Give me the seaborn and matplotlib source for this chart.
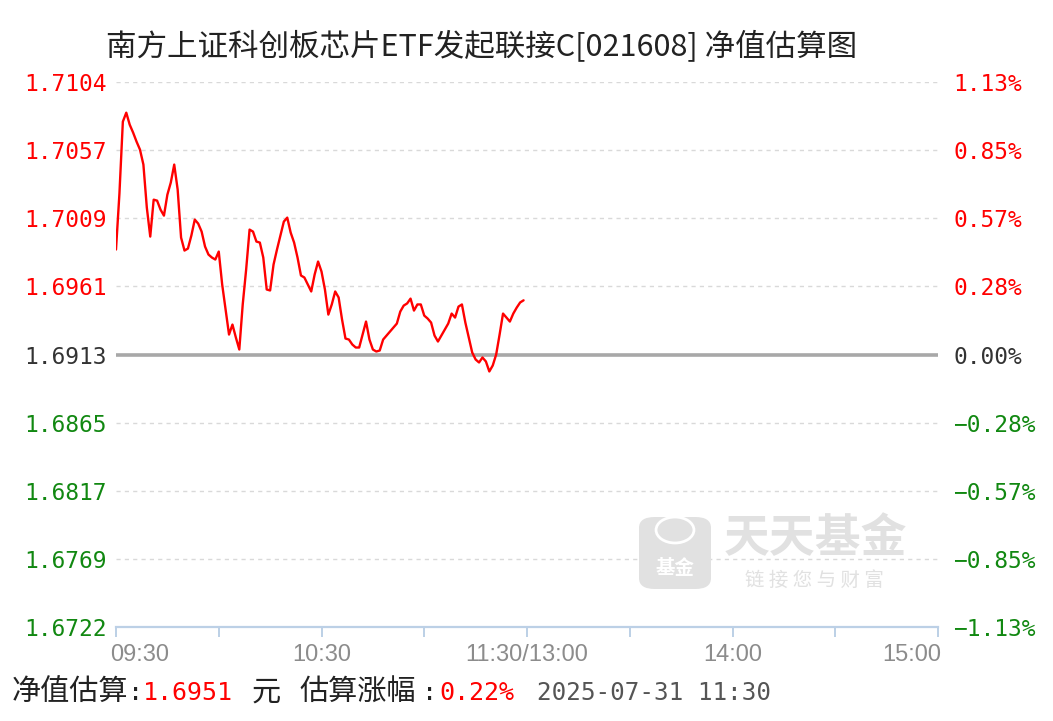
import matplotlib
matplotlib.use("Agg")
import matplotlib.pyplot as plt
import matplotlib.transforms as mtransforms
from matplotlib import font_manager
from matplotlib.patches import FancyBboxPatch, Circle
import numpy as np
import pandas as pd
import seaborn as sns

# ---------------- data ----------------
minutes = list(range(120))  # trading minutes since 09:30
nav = [
    1.69866, 1.70258, 1.70763, 1.70826, 1.70742, 1.70686, 1.70623, 1.70567, 1.70462, 1.70160,
    1.69957, 1.70216, 1.70209, 1.70146, 1.70104, 1.70251, 1.70336, 1.70462, 1.70287, 1.69950,
    1.69859, 1.69873, 1.69964, 1.70076, 1.70048, 1.69992, 1.69887, 1.69831, 1.69810, 1.69796,
    1.69852, 1.69621, 1.69445, 1.69270, 1.69340, 1.69249, 1.69165, 1.69481, 1.69726, 1.70006,
    1.69992, 1.69922, 1.69915, 1.69810, 1.69586, 1.69579, 1.69761, 1.69866, 1.69964, 1.70062,
    1.70090, 1.69985, 1.69915, 1.69810, 1.69684, 1.69670, 1.69621, 1.69572, 1.69691, 1.69782,
    1.69712, 1.69586, 1.69410, 1.69481, 1.69572, 1.69530, 1.69375, 1.69242, 1.69235, 1.69200,
    1.69179, 1.69179, 1.69270, 1.69361, 1.69235, 1.69165, 1.69151, 1.69158, 1.69235, 1.69263,
    1.69291, 1.69319, 1.69347, 1.69431, 1.69473, 1.69488, 1.69522, 1.69438, 1.69481, 1.69481,
    1.69403, 1.69382, 1.69354, 1.69263, 1.69221, 1.69263, 1.69305, 1.69347, 1.69417, 1.69389,
    1.69466, 1.69481, 1.69354, 1.69249, 1.69144, 1.69095, 1.69074, 1.69109, 1.69081, 1.69011,
    1.69053, 1.69130, 1.69270, 1.69417, 1.69389, 1.69361, 1.69417, 1.69459, 1.69495, 1.69510,
]
base_nav = 1.6913
range_pct = 1.13
left_labels = ["1.6722", "1.6769", "1.6817", "1.6865", "1.6913", "1.6961", "1.7009", "1.7057", "1.7104"]
right_labels = ["\u22121.13%", "\u22120.85%", "\u22120.57%", "\u22120.28%", "0.00%", "0.28%", "0.57%", "0.85%", "1.13%"]
xtick_minutes = [0, 30, 60, 90, 120, 150, 180, 210, 240]
xtick_labels = ["09:30", "", "10:30", "", "11:30/13:00", "", "14:00", "", "15:00"]
title = "南方上证科创板芯片ETF发起联接C[021608] 净值估算图"
est_nav = "1.6951"
est_pct = "0.22%"
stamp = "2025-07-31 11:30"

# ---------------- style ----------------
sns.set_style("white")
CJK = ["Noto Sans CJK SC", "DejaVu Sans"]
MONO = ["DejaVu Sans Mono", "Noto Sans CJK SC"]
plt.rcParams["font.family"] = CJK
avail = {f.name for f in font_manager.fontManager.ttflist}
NARROW = ["Liberation Sans Narrow"] if "Liberation Sans Narrow" in avail else ["Liberation Sans", "DejaVu Sans"]

RED = "#ff0000"
GREEN = "#118811"
DARK = "#333333"

W, H = 1053, 721
fig = plt.figure(figsize=(W / 100, H / 100), dpi=100)
L, R, T, B = 116, 938, 82, 627
ax = fig.add_axes([L / W, 1 - B / H, (R - L) / W, (B - T) / H])

df = pd.DataFrame({"minute": minutes, "nav": nav})
ymin = base_nav * (1 - range_pct / 100)
ymax = base_nav * (1 + range_pct / 100)
yt = np.linspace(ymin, ymax, len(left_labels))

# grid
for i, y in enumerate(yt):
    if i == 0 or left_labels[i] == f"{base_nav:.4f}":
        continue
    ax.axhline(y, color="#d9d9d9", lw=1.0, ls=(0, (3, 3)), zorder=1)
ax.axhline(base_nav, color="#a8a8a8", lw=2.6, zorder=2)

sns.lineplot(data=df, x="minute", y="nav", ax=ax, color=RED, linewidth=1.7, zorder=4)

ax.set_xlim(0, 240)
ax.set_ylim(ymin, ymax)
ax.set_xlabel("")
ax.set_ylabel("")

for s in ["left", "right", "top"]:
    ax.spines[s].set_visible(False)
ax.spines["bottom"].set_color("#bcd0e6")
ax.spines["bottom"].set_linewidth(1.6)

ax.set_yticks(yt)
ax.set_yticklabels(left_labels, family=MONO, fontsize=16.5)
ax.tick_params(axis="y", left=False, length=0, pad=7)

ax.set_xticks(xtick_minutes)
ax.set_xticklabels(xtick_labels, family=NARROW, fontsize=17, color="#8c8c8c")
ax.tick_params(axis="x", bottom=True, direction="out", length=7, width=1.4, color="#bcd0e6", pad=5)

xl = ax.get_xticklabels()
xl[0].set_ha("left")
xl[0].set_transform(xl[0].get_transform() + mtransforms.ScaledTranslation(-6 / 100, 0, fig.dpi_scale_trans))
xl[-1].set_ha("right")
xl[-1].set_transform(xl[-1].get_transform() + mtransforms.ScaledTranslation(3 / 100, 0, fig.dpi_scale_trans))

def col(i, n):
    mid = n // 2
    return RED if i > mid else (DARK if i == mid else GREEN)

for i, t in enumerate(ax.get_yticklabels()):
    t.set_color(col(i, len(left_labels)))

ax2 = ax.twinx()
ax2.set_ylim(ymin, ymax)
ax2.set_yticks(yt)
ax2.set_yticklabels(right_labels, family=MONO, fontsize=16.5)
ax2.tick_params(axis="y", right=False, length=0, pad=11)
for s in ["left", "right", "top", "bottom"]:
    ax2.spines[s].set_visible(False)
for i, t in enumerate(ax2.get_yticklabels()):
    t.set_color(col(i, len(right_labels)))

# title
fig.text(482 / W, 1 - 46 / H, title, ha="center", va="center", fontsize=22, color="#222222", family=CJK)

# watermark
wm = "#e1e1e1"
box = FancyBboxPatch((639 / W, 1 - 589 / H), 72 / W, 72 / H,
                     boxstyle="round,pad=0,rounding_size=0.015", transform=fig.transFigure,
                     facecolor=wm, edgecolor="none", zorder=0.5)
fig.patches.append(box)
circ = Circle((675 / W, 1 - 530 / H), 0.018, transform=fig.transFigure, facecolor="none",
              edgecolor="white", lw=2, zorder=0.6)
fig.patches.append(circ)
fig.text(675 / W, 1 - 568 / H, "基金", ha="center", va="center", fontsize=14, color="white",
         family=CJK, weight="bold", zorder=0.7)
fig.text(815 / W, 1 - 539 / H, "天天基金", ha="center", va="center", fontsize=33, color=wm,
         family=CJK, weight="bold", zorder=0.6)
fig.text(814 / W, 1 - 580 / H, "链 接 您 与 财 富", ha="center", va="center", fontsize=14, color=wm,
         family=CJK, zorder=0.6)

# bottom info line
yb = 1 - 693 / H
txt = "#222222"
fig.text(12 / W, yb, "净值估算", ha="left", va="center", fontsize=21, color=txt, family=CJK)
fig.text(128 / W, yb, ":", ha="left", va="center", fontsize=18, color=txt, family=MONO)
fig.text(143 / W, yb, est_nav, ha="left", va="center", fontsize=18, color=RED, family=MONO)
fig.text(252 / W, yb, "元", ha="left", va="center", fontsize=21, color=txt, family=CJK)
fig.text(299 / W, yb, "估算涨幅", ha="left", va="center", fontsize=21, color=txt, family=CJK)
fig.text(422 / W, yb, ":", ha="left", va="center", fontsize=18, color=txt, family=MONO)
fig.text(439 / W, yb, est_pct, ha="left", va="center", fontsize=18, color=RED, family=MONO)
fig.text(537 / W, yb, stamp, ha="left", va="center", fontsize=17.5, color="#555555", family=MONO)

fig.savefig("out.png", dpi=100, facecolor="white")
